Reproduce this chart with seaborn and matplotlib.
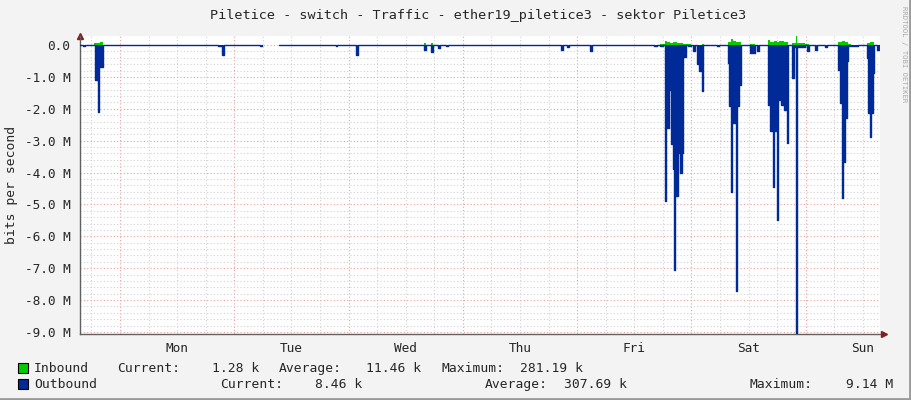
import numpy as np
import pandas as pd
import matplotlib
matplotlib.use("Agg")
import matplotlib.pyplot as plt
import seaborn as sns
from matplotlib.patches import Rectangle
from matplotlib.lines import Line2D

# time axis: hours relative to Monday 00:00; each value holds until the next hour entry
out_hour = [-8.4, -7.8, -7.35, -5.25, -4.62, -4.41, -4.2, -3.57,
            20.6, 21.4, 21.85, 29.4, 29.8, 32.34, 33.39, 45.35, 45.56, 49.55, 49.97,
            63.83, 64.25, 65.3, 65.72, 66.77, 67.19, 68.45, 68.87,
            92.6, 93.0, 93.86, 94.28, 98.69, 99.1, 112.1, 112.76, 113.4, 114.0,
            114.44, 114.65, 115.28, 115.7, 116.12, 116.33, 116.54, 117.17, 117.59, 118.01, 118.22,
            118.43, 118.85, 119.2, 120.0, 120.31, 120.73, 121.15, 121.57, 122.2, 122.41,
            125.4, 125.8, 127.66, 127.87, 128.3, 128.5, 129.34, 129.55, 129.97, 130.39,
            132.28, 133.33, 133.75, 134.17,
            136.06, 136.48, 137.11, 137.32, 137.95, 138.16, 138.79, 139.42, 140.05, 140.26,
            141.1, 141.52, 141.94, 142.15, 143.8, 144.25, 144.67, 145.93, 146.35, 148.03, 148.45,
            150.76, 151.18, 151.6, 151.81, 152.23, 152.65, 152.86, 155.0,
            156.85, 157.06, 157.48, 157.69, 158.11, 158.32, 158.95, 159.37]
out_mbit = [0.0, 0.04, 0.0, 1.1, 2.1, 0.2, 0.7, 0.0,
            0.03, 0.3, 0.0, 0.03, 0.0, np.nan, 0.0, 0.02, 0.0, 0.3, 0.0,
            0.15, 0.0, 0.22, 0.0, 0.1, 0.0, 0.02, 0.0,
            0.15, 0.0, 0.05, 0.0, 0.2, 0.0, 0.02, 0.0, 0.04, 0.0,
            4.9, 2.6, 1.4, 3.1, 3.9, 7.05, 4.75, 3.4, 4.0, 3.4, 0.0,
            0.37, 0.0, 0.04, 0.0, 0.2, 0.0, 0.6, 0.8, 1.45, 0.0,
            0.03, 0.0, 0.57, 1.9, 4.6, 2.45, 7.7, 1.9, 1.25, 0.0,
            0.25, 0.0, 0.2, 0.0,
            1.88, 2.7, 4.44, 2.7, 5.5, 1.72, 1.88, 2.04, 3.08, 0.0,
            1.05, 0.05, 9.14, 0.05, 0.0, 0.2, 0.0, 0.15, 0.0, 0.05, 0.0,
            0.78, 1.83, 4.8, 3.66, 2.3, 0.5, 0.04, 0.0,
            0.4, 2.14, 2.9, 2.14, 0.88, 0.0, 0.15, 0.0]

in_hour = [-8.4, -5.4, -4.2, -3.6, 32.34, 33.39, 63.8, 64.25, 65.3, 65.72,
           113.4, 114.4, 114.9, 115.5, 116.1, 116.9, 118.2, 120.0, 122.2, 122.6,
           127.7, 128.3, 128.7, 129.3, 130.4, 132.3, 133.3,
           136.0, 136.5, 137.3, 137.9, 138.4, 139.4, 140.3,
           141.1, 141.9, 142.15, 143.8, 144.7,
           150.8, 151.6, 152.2, 152.9, 153.5, 156.9, 157.5, 158.3]
in_mbit = [0.0, 0.06, 0.1, 0.0, np.nan, 0.0, 0.05, 0.0, 0.05, 0.0,
           0.02, 0.13, 0.08, 0.06, 0.08, 0.07, 0.02, 0.0, 0.03, 0.0,
           0.08, 0.19, 0.12, 0.08, 0.0, 0.03, 0.0,
           0.17, 0.08, 0.13, 0.1, 0.12, 0.08, 0.0,
           0.06, 0.28, 0.06, 0.04, 0.0,
           0.1, 0.13, 0.1, 0.03, 0.0, 0.06, 0.08, 0.0]

day_names = ["Mon", "Tue", "Wed", "Thu", "Fri", "Sat", "Sun"]
y_ticks = [0, -1, -2, -3, -4, -5, -6, -7, -8, -9]
y_labels = ["0.0"] + [f"{v:.1f} M" for v in y_ticks[1:]]

legend_rows = [
    ("Inbound", "#00CC00", [("Current:", 117, "1.28 k", 259), ("Average:", 279, "11.46 k", 421),
                            ("Maximum:", 441, "281.19 k", 583)]),
    ("Outbound", "#002A97", [("Current:", 220, "8.46 k", 362), ("Average:", 485, "307.69 k", 627),
                             ("Maximum:", 750, "9.14 M", 893)]),
]

T0, T1 = -8.4, 159.6
W, H = 911, 400
MONO = "DejaVu Sans Mono"


def fx(px):
    return px / W


def fy(py):
    return 1 - py / H


def step_frame(hours, vals):
    x = np.array(hours + [T1], dtype=float)
    y = np.array(vals + [vals[-1]], dtype=float)
    seg = np.cumsum(np.isnan(y))
    return pd.DataFrame({"hour": x, "val": y, "seg": seg})


sns.set_style("white")
plt.rcParams["font.family"] = [MONO]

fig = plt.figure(figsize=(W / 100, H / 100), dpi=100, facecolor="#F3F3F3")
ax = fig.add_axes([fx(80), fy(334), fx(880) - fx(80), fy(36) - fy(334)])
ax.set_facecolor("white")
ax.set_xlim(T0, T1)
ax.set_ylim(-9.063, 0.282)

# grid: grey every 6 h / 0.2 M, red at midnight / every 1 M
grey, red = "#D2D2D2", "#EAA0A0"
for h in np.arange(-6, T1, 6):
    ax.axvline(h, color=red if h % 24 == 0 else grey, lw=0.8, ls=(0, (1, 2)), zorder=0)
for v in np.arange(0, -9.01, -0.2):
    major = abs(v - round(v)) < 1e-6
    ax.axhline(v, color=red if major else grey, lw=0.8, ls=(0, (1, 2)), zorder=0)

out_df = step_frame(out_hour, out_mbit)
in_df = step_frame(in_hour, in_mbit)

ax.fill_between(in_df["hour"], in_df["val"], 0, step="post", color="#00CC00", lw=0, zorder=2)
ax.fill_between(out_df["hour"], -out_df["val"], 0, step="post", color="#002A97", lw=0, zorder=2)
out_df["neg"] = -out_df["val"]
sns.lineplot(data=out_df.dropna(), x="hour", y="neg", units="seg", estimator=None,
             drawstyle="steps-post", color="#002A97", lw=1.0, ax=ax, zorder=3)

ax.set_xlabel("")
ax.set_ylabel("")
ax.set_yticks(y_ticks)
ax.set_yticklabels(y_labels, fontsize=9.2, fontfamily=MONO)
ax.set_xticks(np.arange(12, T1, 24))
ax.set_xticklabels(day_names, fontsize=9.2, fontfamily=MONO)
ax.tick_params(axis="x", length=0, pad=6)
ax.tick_params(axis="y", length=3, width=0.8, color="#606060", pad=4)

for s in ["top", "right"]:
    ax.spines[s].set_visible(False)
for s in ["left", "bottom"]:
    ax.spines[s].set_color("#606060")
    ax.spines[s].set_linewidth(1.0)
ax.plot([0], [1.0], marker="^", color="#8B1A1A", ms=5, transform=ax.transAxes, clip_on=False)
ax.plot([1.005], [0.0], marker=">", color="#8B1A1A", ms=5, transform=ax.transAxes, clip_on=False)

fig.text(fx(478), fy(15), "Piletice - switch - Traffic - ether19_piletice3 - sektor Piletice3",
         ha="center", va="center", fontsize=9.7, fontfamily=MONO)
fig.text(fx(12), fy(185), "bits per second", rotation=90, ha="center", va="center",
         fontsize=9.4, fontfamily=MONO)
fig.text(fx(904), fy(6), "RRDTOOL / TOBI OETIKER", rotation=270, ha="center", va="top",
         fontsize=5.2, color="#A8A8A8", fontfamily=MONO)

for i, (name, color, stats) in enumerate(legend_rows):
    yc = 368 + 16 * i
    fig.add_artist(Rectangle((fx(18), fy(yc + 5)), fx(10), fy(yc - 5) - fy(yc + 5),
                             transform=fig.transFigure, facecolor=color, edgecolor="black", lw=0.8))
    base = fy(yc + 4)
    fig.text(fx(34), base, name, ha="left", va="baseline", fontsize=9.4, fontfamily=MONO)
    for label, lx, value, vx in stats:
        fig.text(fx(lx), base, label, ha="left", va="baseline", fontsize=9.4, fontfamily=MONO)
        fig.text(fx(vx), base, value, ha="right", va="baseline", fontsize=9.4, fontfamily=MONO)

# frame
fig.add_artist(Line2D([0, 1], [fy(399), fy(399)], transform=fig.transFigure, color="#9A9A9A", lw=2))
fig.add_artist(Line2D([fx(910), fx(910)], [0, 1], transform=fig.transFigure, color="#9A9A9A", lw=2))

fig.savefig("out.png", dpi=100, facecolor=fig.get_facecolor())
